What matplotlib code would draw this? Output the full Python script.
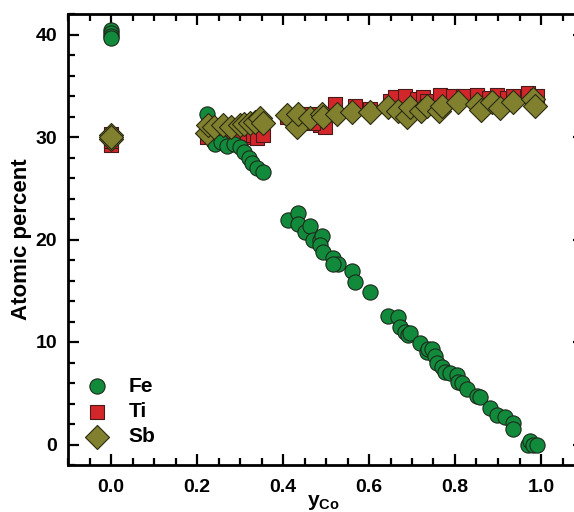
import matplotlib
matplotlib.use("Agg")
import matplotlib.pyplot as plt
from matplotlib.ticker import MultipleLocator

plt.rcParams["font.family"] = ["Liberation Sans", "DejaVu Sans"]
plt.rcParams["font.weight"] = "bold"
plt.rcParams["mathtext.fontset"] = "custom"
plt.rcParams["mathtext.rm"] = "Liberation Sans:bold"
plt.rcParams["mathtext.it"] = "Liberation Sans:bold"
plt.rcParams["mathtext.bf"] = "Liberation Sans:bold"

# composition data
fe_x = [0.0, 0.0, 0.0, 0.0,
        0.223, 0.242, 0.255, 0.27, 0.285, 0.30, 0.31, 0.32, 0.328, 0.34, 0.354,
        0.412, 0.435, 0.435, 0.451, 0.463, 0.47, 0.486, 0.49, 0.486, 0.493,
        0.517, 0.528, 0.517, 0.56, 0.567, 0.602, 0.644, 0.667, 0.672, 0.684,
        0.69, 0.695, 0.719, 0.735, 0.737, 0.746, 0.753, 0.758, 0.77, 0.777,
        0.788, 0.805, 0.807, 0.816, 0.828, 0.851, 0.858, 0.881, 0.898, 0.916,
        0.935, 0.935, 0.97, 0.975, 0.981, 0.99]
fe_y = [40.4, 40.1, 39.9, 39.7,
        32.2, 29.3, 29.5, 29.1, 29.3, 29.0, 28.5, 28.0, 27.5, 27.0, 26.6,
        21.95, 22.6, 21.5, 20.7, 21.3, 20.0, 20.0, 20.3, 19.5, 18.8,
        18.2, 17.6, 17.6, 16.9, 15.9, 14.9, 12.5, 12.4, 11.5, 11.0,
        10.7, 10.9, 9.95, 9.0, 9.3, 9.3, 8.6, 8.0, 7.6, 7.1,
        7.0, 6.8, 6.1, 6.0, 5.4, 4.7, 4.6, 3.6, 2.9, 2.7,
        2.1, 1.5, 0.0, 0.3, 0.0, 0.0]

ti_x = [0.0, 0.0, 0.0,
        0.223, 0.24, 0.26, 0.28, 0.30, 0.316, 0.33, 0.34, 0.354,
        0.409, 0.435, 0.463, 0.486, 0.498, 0.47, 0.521, 0.567, 0.602,
        0.649, 0.66, 0.684, 0.712, 0.726, 0.735, 0.765, 0.795, 0.819,
        0.851, 0.879, 0.898, 0.92, 0.935, 0.97, 0.99]
ti_y = [29.2, 29.6, 30.3,
        30.0, 29.8, 30.0, 30.1, 29.8, 30.0, 30.2, 29.9, 30.2,
        32.0, 31.5, 32.2, 31.2, 31.0, 31.4, 33.2, 33.0, 32.7,
        33.5, 33.9, 34.0, 33.7, 33.9, 33.5, 34.1, 34.0, 34.0,
        34.1, 33.8, 34.1, 33.8, 34.0, 34.3, 34.0]

sb_x = [0.0, 0.0, 0.0,
        0.223, 0.226, 0.24, 0.26, 0.28, 0.30, 0.31, 0.323, 0.335, 0.347, 0.354,
        0.409, 0.432, 0.435, 0.463, 0.49, 0.493, 0.526, 0.56, 0.602,
        0.644, 0.667, 0.688, 0.695, 0.72, 0.735, 0.763, 0.77, 0.807,
        0.851, 0.86, 0.886, 0.905, 0.935, 0.981, 0.986]
sb_y = [29.8, 30.2, 30.0,
        30.4, 31.2, 31.0, 31.2, 31.0, 31.2, 31.3, 31.4, 31.5, 31.9, 31.4,
        32.1, 31.0, 32.2, 31.9, 32.2, 32.0, 32.2, 32.4, 32.4,
        32.9, 32.5, 32.0, 32.9, 32.5, 33.0, 32.5, 33.0, 33.4,
        33.2, 32.6, 33.4, 32.8, 33.4, 33.7, 33.0]

fig = plt.figure(figsize=(5.74, 5.12), dpi=100)
ax = fig.add_axes([68 / 574, 47 / 512, 516 / 574, 451 / 512])

ax.scatter(fe_x, fe_y, s=120, marker="o", color="#128a3c",
           edgecolor="#1c2a1c", linewidth=0.8, label="Fe", zorder=3)
ax.scatter(ti_x, ti_y, s=110, marker="s", color="#d2262a",
           edgecolor="#4a1a1a", linewidth=0.8, label="Ti", zorder=2)
ax.scatter(sb_x, sb_y, s=150, marker="D", color="#80802e",
           edgecolor="#2a2a10", linewidth=0.8, label="Sb", zorder=4)

ax.set_xlim(-0.1, 1.1)
ax.set_ylim(-2, 42)
ax.xaxis.set_major_locator(MultipleLocator(0.2))
ax.xaxis.set_minor_locator(MultipleLocator(0.05))
ax.yaxis.set_major_locator(MultipleLocator(10))
ax.yaxis.set_minor_locator(MultipleLocator(2))
ax.xaxis.set_major_formatter(plt.FuncFormatter(lambda v, p: f"{v:.1f}"))

ax.tick_params(which="both", direction="in", top=True, right=True,
               width=1.6, labelsize=14)
ax.tick_params(axis="x", pad=10)
ax.tick_params(axis="y", pad=8)
ax.tick_params(which="major", length=8)
ax.tick_params(which="minor", length=5)
for sp in ax.spines.values():
    sp.set_linewidth(2)

ax.set_ylabel("Atomic percent", fontsize=16, fontweight="bold")
ax.yaxis.set_label_coords(-0.07, 0.5)
ax.set_xlabel(r"$y_{Co}$", fontsize=15)
ax.xaxis.set_label_coords(0.495, -0.062)

ax.legend(loc="lower left", bbox_to_anchor=(0.0, 0.0), frameon=False,
          fontsize=15, handlelength=1.0, handletextpad=1.0,
          labelspacing=0.3, borderaxespad=0.5, scatterpoints=1)

fig.savefig("out.png", dpi=100, facecolor="white")
